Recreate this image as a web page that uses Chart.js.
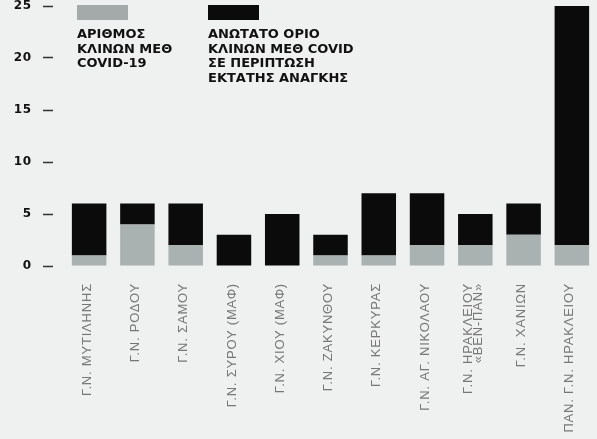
<!DOCTYPE html>
<html><head><meta charset="utf-8">
<script src="https://cdn.jsdelivr.net/npm/chart.js@4/dist/chart.umd.min.js"></script>
<style>
html,body{margin:0;padding:0;background:#eef1ef;overflow:hidden}
#wrap{width:597px;height:439px;position:relative}
</style>
</head><body><div id="wrap"><canvas id="c" width="597" height="439"></canvas></div>
<script>
const categories = [
  "Γ.Ν. ΜΥΤΙΛΗΝΗΣ", "Γ.Ν. ΡΟΔΟΥ", "Γ.Ν. ΣΑΜΟΥ", "Γ.Ν. ΣΥΡΟΥ (ΜΑΦ)", "Γ.Ν. ΧΙΟΥ (ΜΑΦ)",
  "Γ.Ν. ΖΑΚΥΝΘΟΥ", "Γ.Ν. ΚΕΡΚΥΡΑΣ", "Γ.Ν. ΑΓ. ΝΙΚΟΛΑΟΥ", ["Γ.Ν. ΗΡΑΚΛΕΙΟΥ", "«ΒΕΝ-ΠΑΝ»"],
  "Γ.Ν. ΧΑΝΙΩΝ", "ΠΑΝ. Γ.Ν. ΗΡΑΚΛΕΙΟΥ"
];
const covidBeds = [1, 4, 2, 0, 0, 1, 1, 2, 2, 3, 2];
const maxBeds   = [6, 6, 6, 3, 5, 3, 7, 7, 5, 6, 25];
const covidName = ["ΑΡΙΘΜΟΣ", "ΚΛΙΝΩΝ ΜΕΘ", "COVID-19"];
const maxName   = ["ΑΝΩΤΑΤΟ ΟΡΙΟ", "ΚΛΙΝΩΝ ΜΕΘ COVID", "ΣΕ ΠΕΡΙΠΤΩΣΗ", "ΕΚΤΑΤΗΣ ΑΝΑΓΚΗΣ"];
const yTickValues = [0, 5, 10, 15, 20, 25];

const covidColor = '#a9b2b0';
const maxColor = '#0b0b0b';

const spacingPlugin = {
  id: 'spacing',
  beforeDraw(chart) {
    chart.ctx.letterSpacing = '0.8px';
    // centre multi-line category labels on their bar
    const xs = chart.scales.x;
    const items = xs.getLabelItems(chart.chartArea);
    items.forEach(it => {
      if (Array.isArray(it.label) && !it._centred) {
        const lh = it.font.lineHeight;
        it.options.translation[0] -= (it.label.length - 1) * lh / 2;
        it._centred = true;
      }
    });
  },
  beforeDatasetsDraw(chart) { chart.ctx.letterSpacing = '0px'; }
};

const legendPlugin = {
  id: 'customLegend',
  afterDraw(chart) {
    const ctx = chart.ctx;
    const left = chart.chartArea.left;
    const items = [
      {name: covidName, color: '#a4a9a9', x: left + 12},
      {name: maxName, color: maxColor, x: left + 143}
    ];
    ctx.save();
    ctx.letterSpacing = '0px';
    items.forEach(it => {
      ctx.fillStyle = it.color;
      ctx.fillRect(it.x, 5, 51, 15);
      ctx.fillStyle = '#111';
      ctx.font = 'bold 13px "DejaVu Sans"';
      ctx.textBaseline = 'alphabetic';
      ctx.textAlign = 'left';
      it.name.forEach((line, i) => ctx.fillText(line, it.x, 38 + i * 14.6));
    });
    ctx.restore();
  }
};

new Chart(document.getElementById('c'), {
  type: 'bar',
  data: {
    labels: categories,
    datasets: [
      {label: covidName.join(' '), data: covidBeds, backgroundColor: covidColor},
      {label: maxName.join(' '), data: covidBeds.map((v, i) => [v, maxBeds[i]]), backgroundColor: maxColor}
    ]
  },
  options: {
    responsive: false,
    animation: false,
    devicePixelRatio: 1,
    categoryPercentage: 1,
    barPercentage: 0.715,
    layout: {padding: {top: 0, right: 1, left: 0, bottom: 0}},
    plugins: {legend: {display: false}, tooltip: {enabled: false}},
    scales: {
      x: {
        stacked: true,
        grid: {display: false},
        border: {display: false},
        ticks: {
          autoSkip: false, maxRotation: 90, minRotation: 90, padding: 9, labelOffset: -2,
          color: '#777',
          font: {family: '"Liberation Sans", Arial, sans-serif', size: 13, lineHeight: 0.8}
        },
        afterFit(scale) { scale.height = 173; }
      },
      y: {
        stacked: false,
        min: 0, max: 25,
        afterBuildTicks(scale) { scale.ticks = yTickValues.map(v => ({value: v})); },
        grid: {
          drawOnChartArea: false, drawTicks: true, tickLength: 33,
          tickColor: '#333', tickWidth: 1.5, tickBorderDash: [0, 11, 10, 60]
        },
        border: {display: false},
        ticks: {
          padding: 0, color: '#111',
          font: {family: '"DejaVu Sans", sans-serif', size: 12, weight: 'bold', lineHeight: 1.0}
        },
        afterFit(scale) { scale.width = 65; }
      }
    }
  },
  plugins: [spacingPlugin, legendPlugin]
});
</script>
</body></html>
